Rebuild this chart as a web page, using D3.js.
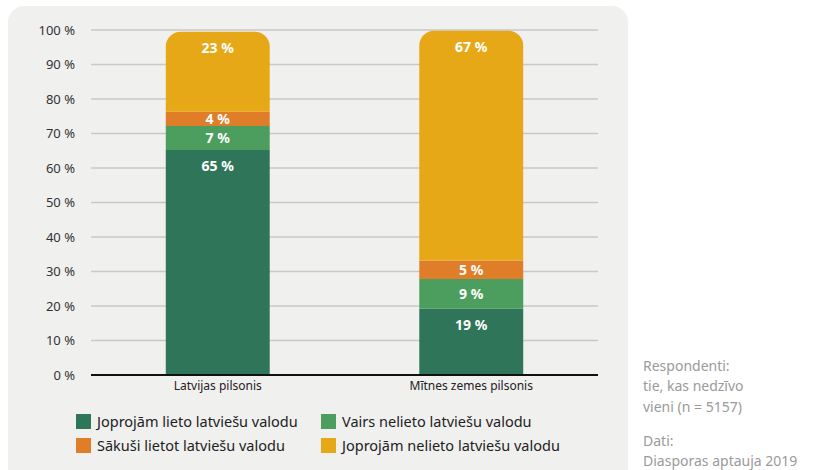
<!DOCTYPE html>
<meta charset="utf-8">
<style>
body { margin: 0; background: #fff; }
text { font-family: "Noto Sans", "Open Sans", sans-serif; }
.grid line { stroke: #c8c8c8; stroke-width: 1.5px; }
.seg-label { fill: #fff; font-weight: bold; font-size: 14px; text-anchor: middle; }
.note { fill: #9a9a9a; font-size: 14px; }
</style>
<svg width="815" height="470"></svg>
<script src="https://d3js.org/d3.v7.min.js"></script>
<script>
var categories = ["Latvijas pilsonis", "Mītnes zemes pilsonis"];
var seriesNames = ["Joprojām lieto latviešu valodu", "Vairs nelieto latviešu valodu",
                   "Sākuši lietot latviešu valodu", "Joprojām nelieto latviešu valodu"];
var seriesColors = ["#2f755a", "#4b9e5d", "#e07d29", "#e7a817"];
// values per category, in stack order (bottom to top)
var latvijasValues = [65.2, 7.0, 4.1, 23.2];
var mitnesValues = [19.2, 8.6, 5.4, 66.6];
var yTicks = [0, 10, 20, 30, 40, 50, 60, 70, 80, 90, 100];
var noteLines = ["Respondenti:", "tie, kas nedzīvo", "vieni (n = 5157)"];
var sourceLines = ["Dati:", "Diasporas aptauja 2019"];

var svg = d3.select("svg");

svg.append("rect")
    .attr("x", 8).attr("y", 6)
    .attr("width", 620).attr("height", 500)
    .attr("rx", 16)
    .attr("fill", "#f0f0ef");

var margin = {top: 30, left: 91},
    width = 507, height = 345,
    g = svg.append("g").attr("transform", "translate(" + margin.left + "," + margin.top + ")");

var x = d3.scaleBand().domain(categories).range([0, width]).paddingInner(0.59).paddingOuter(0.295);
var y = d3.scaleLinear().domain([0, 100]).range([height, 0]);

g.append("g").attr("class", "grid")
  .selectAll("line")
  .data(yTicks.filter(function(d) { return d > 0; }))
  .enter().append("line")
    .attr("x1", 0).attr("x2", width)
    .attr("y1", function(d) { return y(d); })
    .attr("y2", function(d) { return y(d); });

g.selectAll(".ytick")
  .data(yTicks)
  .enter().append("text")
    .attr("class", "ytick")
    .attr("x", -16)
    .attr("y", function(d) { return y(d); })
    .attr("dy", "0.35em")
    .attr("text-anchor", "end")
    .style("font-size", "13px")
    .attr("fill", "#333")
    .text(function(d) { return d + " %"; });

var data = [latvijasValues, mitnesValues].map(function(vals, i) {
  var o = {cat: categories[i]};
  seriesNames.forEach(function(s, j) { o[s] = vals[j]; });
  return o;
});
var stack = d3.stack().keys(seriesNames)(data);
var r = 15;

stack.forEach(function(layer, li) {
  var isTop = li === stack.length - 1;
  var lg = g.append("g");
  lg.selectAll("path")
    .data(layer)
    .enter().append("path")
      .attr("fill", seriesColors[li])
      .attr("d", function(d) {
        var x0 = x(d.data.cat), x1 = x0 + x.bandwidth(),
            y0 = y(d[0]), y1 = y(d[1]);
        if (!isTop) {
          return "M" + x0 + "," + y0 + "H" + x1 + "V" + y1 + "H" + x0 + "Z";
        }
        return "M" + x0 + "," + y0 + "V" + (y1 + r) +
          "A" + r + "," + r + " 0 0 1 " + (x0 + r) + "," + y1 +
          "H" + (x1 - r) +
          "A" + r + "," + r + " 0 0 1 " + x1 + "," + (y1 + r) +
          "V" + y0 + "Z";
      });
  lg.selectAll("text")
    .data(layer)
    .enter().append("text")
      .attr("class", "seg-label")
      .attr("x", function(d) { return x(d.data.cat) + x.bandwidth() / 2; })
      .attr("y", function(d) {
        var top = y(d[1]), h = y(d[0]) - y(d[1]);
        return top + Math.min(h / 2, 16);
      })
      .attr("dy", "0.36em")
      .text(function(d) { return Math.round(d[1] - d[0]) + " %"; });
});

g.append("line")
    .attr("x1", 0).attr("x2", width)
    .attr("y1", height).attr("y2", height)
    .attr("stroke", "#111").attr("stroke-width", 2);

g.selectAll(".xlabel")
  .data(categories)
  .enter().append("text")
    .attr("x", function(d) { return x(d) + x.bandwidth() / 2; })
    .attr("y", height + 15)
    .attr("text-anchor", "middle")
    .style("font-size", "12px")
    .attr("fill", "#222")
    .text(function(d) { return d; });

// legend: 2 columns, read row by row
var legendPos = [[76, 414], [321, 414], [76, 438], [321, 438]];
var legend = svg.selectAll(".legend")
  .data(seriesNames)
  .enter().append("g")
    .attr("transform", function(d, i) { return "translate(" + legendPos[i][0] + "," + legendPos[i][1] + ")"; });
legend.append("rect")
    .attr("width", 15).attr("height", 15)
    .attr("fill", function(d, i) { return seriesColors[i]; });
legend.append("text")
    .attr("x", 21).attr("y", 7.5)
    .attr("dy", "0.35em")
    .style("font-size", "14.5px")
    .attr("fill", "#222")
    .text(function(d) { return d; });

svg.selectAll(".note1")
  .data(noteLines)
  .enter().append("text")
    .attr("class", "note")
    .attr("x", 643)
    .attr("y", function(d, i) { return 366 + i * 20.5; })
    .attr("dy", "0.35em")
    .text(function(d) { return d; });

svg.selectAll(".note2")
  .data(sourceLines)
  .enter().append("text")
    .attr("class", "note")
    .attr("x", 643)
    .attr("y", function(d, i) { return 441 + i * 20.5; })
    .attr("dy", "0.35em")
    .text(function(d) { return d; });
</script>
